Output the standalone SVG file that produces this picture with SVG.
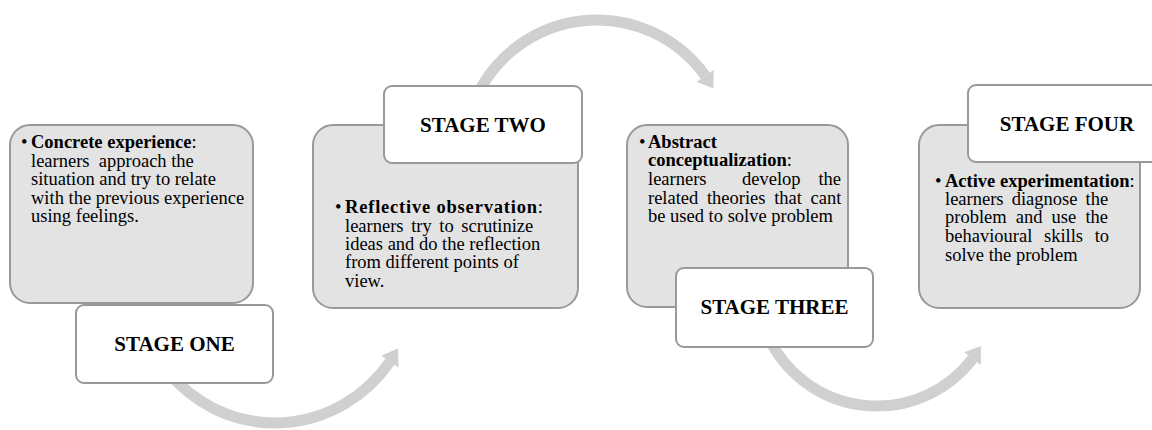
<svg xmlns="http://www.w3.org/2000/svg" width="1152" height="430" viewBox="0 0 1152 430">
<defs>
<style>
.panel{fill:#e3e3e3;stroke:#999999;stroke-width:2}
.label{fill:#ffffff;stroke:#999999;stroke-width:2}
.arc{fill:none;stroke:#d0d0d0;stroke-width:11}
.head{fill:#d0d0d0}
text{font-family:"Liberation Serif","Times New Roman",serif;fill:#000000}
.body{font-size:18.5px}
.stage{font-size:21px;font-weight:bold;text-anchor:middle}
.b{font-weight:bold}
.end{text-anchor:end}
</style>
</defs>
<rect width="1152" height="430" fill="#ffffff"/>
<g id="connectors">
  <path class="arc" d="M 167 370.8 A 141 146 0 0 0 389.9 361.6"/>
  <polygon class="head" points="381.2,355.7 398.6,367.5 398,348.5"/>
  <path class="arc" d="M 475 100 A 133 133 0 0 1 705.3 75.8"/>
  <polygon class="head" points="696.7,81.9 713.8,69.7 713.3,88.5"/>
  <path class="arc" d="M 768.2 336.7 A 120 120 0 0 0 972.6 358.6"/>
  <polygon class="head" points="964.2,352.2 980.9,364.9 980.9,346"/>
</g>
<g id="stage-one">
  <rect class="panel" x="10" y="125" width="243" height="178" rx="20"/>
  <text class="body" x="21" y="148">•</text>
  <text class="body" x="31" y="148"><tspan class="b">Concrete experience</tspan>:</text>
  <text class="body" x="31" y="167">learners&#160; approach the</text>
  <text class="body" x="31" y="185">situation and try to relate</text>
  <text class="body" x="31" y="204">with the previous experience</text>
  <text class="body" x="31" y="222">using feelings.</text>
  <rect class="label" x="76" y="305" width="197" height="78" rx="8"/>
  <text class="stage" x="174.5" y="351">STAGE ONE</text>
</g>
<g id="stage-two">
  <rect class="panel" x="313" y="125" width="265" height="183" rx="20"/>
  <rect class="label" x="384" y="86" width="198" height="77" rx="8"/>
  <text class="stage" x="483" y="132">STAGE TWO</text>
  <text class="body" x="335" y="213">•</text>
  <text class="body" x="345" y="213" letter-spacing="0.8"><tspan class="b">Reflective observation</tspan>:</text>
  <text class="body" x="345" y="232" word-spacing="3">learners try to scrutinize</text>
  <text class="body" x="345" y="250">ideas and do the reflection</text>
  <text class="body" x="345" y="268">from different points of</text>
  <text class="body" x="345" y="287">view.</text>
</g>
<g id="stage-three">
  <rect class="panel" x="627" y="125" width="221" height="182" rx="20"/>
  <text class="body" x="639" y="148">•</text>
  <text class="body b" x="648" y="148">Abstract</text>
  <text class="body" x="648" y="166"><tspan class="b">conceptualization</tspan>:</text>
  <text class="body" x="648" y="185">learners</text>
  <text class="body" x="742" y="185">develop</text>
  <text class="body end" x="841" y="185">the</text>
  <text class="body" x="648" y="204" word-spacing="4">related theories that cant</text>
  <text class="body" x="648" y="222">be used to solve problem</text>
  <rect class="label" x="676" y="268" width="197" height="79" rx="8"/>
  <text class="stage" x="774.5" y="314">STAGE THREE</text>
</g>
<g id="stage-four">
  <rect class="panel" x="919" y="125" width="221" height="183" rx="20"/>
  <rect class="label" x="968" y="85" width="198" height="77" rx="8"/>
  <text class="stage" x="1067" y="131">STAGE FOUR</text>
  <text class="body" x="935" y="187">•</text>
  <text class="body" x="945" y="187"><tspan class="b">Active experimentation</tspan>:</text>
  <text class="body" x="945" y="205" word-spacing="3.5">learners diagnose the</text>
  <text class="body" x="945" y="223" word-spacing="4.5">problem and use the</text>
  <text class="body" x="945" y="242" word-spacing="7">behavioural skills to</text>
  <text class="body" x="945" y="261">solve the problem</text>
</g>
</svg>
